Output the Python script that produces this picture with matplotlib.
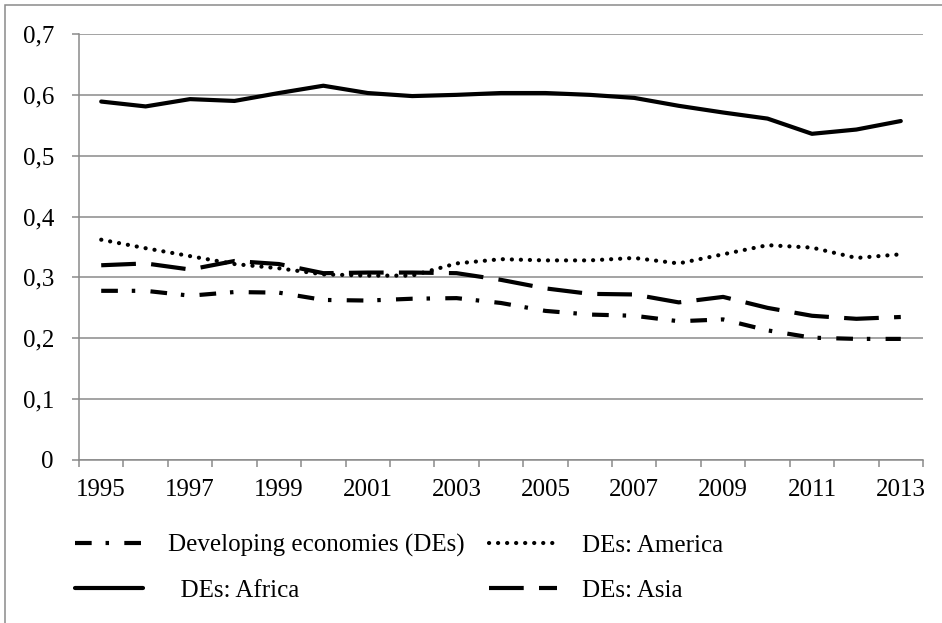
import matplotlib.pyplot as plt
from matplotlib.patches import Rectangle

plt.rcParams['font.family'] = ['Liberation Serif', 'DejaVu Serif']
plt.rcParams['lines.scale_dashes'] = False

years = [str(y) for y in range(1995, 2014)]
developing = [0.278, 0.278, 0.270, 0.276, 0.275, 0.263, 0.262, 0.265, 0.266, 0.258,
              0.245, 0.239, 0.237, 0.228, 0.231, 0.213, 0.201, 0.199, 0.199]
america = [0.362, 0.348, 0.335, 0.322, 0.315, 0.305, 0.303, 0.303, 0.323, 0.330,
           0.328, 0.328, 0.332, 0.323, 0.338, 0.353, 0.349, 0.332, 0.338]
africa = [0.589, 0.581, 0.593, 0.590, 0.603, 0.615, 0.603, 0.598, 0.600, 0.603,
          0.603, 0.600, 0.595, 0.582, 0.571, 0.561, 0.536, 0.543, 0.557]
asia = [0.320, 0.323, 0.313, 0.327, 0.322, 0.307, 0.308, 0.308, 0.307, 0.296,
        0.282, 0.273, 0.272, 0.259, 0.268, 0.250, 0.237, 0.232, 0.235]

y_ticks = [0, 0.1, 0.2, 0.3, 0.4, 0.5, 0.6, 0.7]
y_labels = ['0', '0,1', '0,2', '0,3', '0,4', '0,5', '0,6', '0,7']

grey = '#8a8a8a'
W, H = 942, 623

fig = plt.figure(figsize=(W / 100, H / 100), dpi=100)
ax = fig.add_axes([79 / W, 1 - 460 / H, (923 - 79) / W, (460 - 34) / H])

x = list(range(len(years)))
lw = 3.0
l_dev, = ax.plot(x, developing, color='black', lw=lw, dashes=(12, 10, 2.5, 11),
                 label='Developing economies (DEs)')
l_am, = ax.plot(x, america, color='black', lw=lw, dashes=(0.1, 6.4),
                dash_capstyle='round', label='DEs: America')
l_af, = ax.plot(x, africa, color='black', lw=lw, solid_capstyle='round',
                label='  DEs: Africa')
l_as, = ax.plot(x, asia, color='black', lw=lw, dashes=(25, 11), label='DEs: Asia')

ax.set_xlim(-0.5, len(years) - 0.5)
ax.set_ylim(0, 0.7)
ax.set_yticks(y_ticks)
ax.set_yticklabels(y_labels)
ax.set_xticks(x[::2])
ax.set_xticklabels(years[::2])
ax.set_xticks([i - 0.5 for i in range(len(years) + 1)], minor=True)

ax.tick_params(axis='x', which='major', length=0, pad=14, labelsize=18)
ax.tick_params(axis='x', which='minor', length=5, color=grey, width=1.1)
ax.tick_params(axis='y', length=5, color=grey, width=1.1, pad=13, labelsize=18)

ax.yaxis.grid(True, color=grey, lw=1.1)
ax.set_axisbelow(True)
for s in ['top', 'right']:
    ax.spines[s].set_visible(False)
for s in ['left', 'bottom']:
    ax.spines[s].set_color(grey)
    ax.spines[s].set_linewidth(1.1)

ax.legend(handles=[l_dev, l_af, l_am, l_as], ncol=2, frameon=False,
          loc='upper left', bbox_to_anchor=(75 / W, 1 - 534 / H),
          bbox_transform=fig.transFigure, borderaxespad=0, borderpad=0,
          fontsize=18, handlelength=2.7, handletextpad=1.0,
          columnspacing=1.0, labelspacing=0.9)

# chart area border (left and top edges are visible)
fig.add_artist(Rectangle((5 / W, -0.1), 1.2, 1.1 - 5 / H, fill=False,
                         edgecolor=grey, lw=1.1, transform=fig.transFigure))

fig.savefig('out.png', dpi=100)
